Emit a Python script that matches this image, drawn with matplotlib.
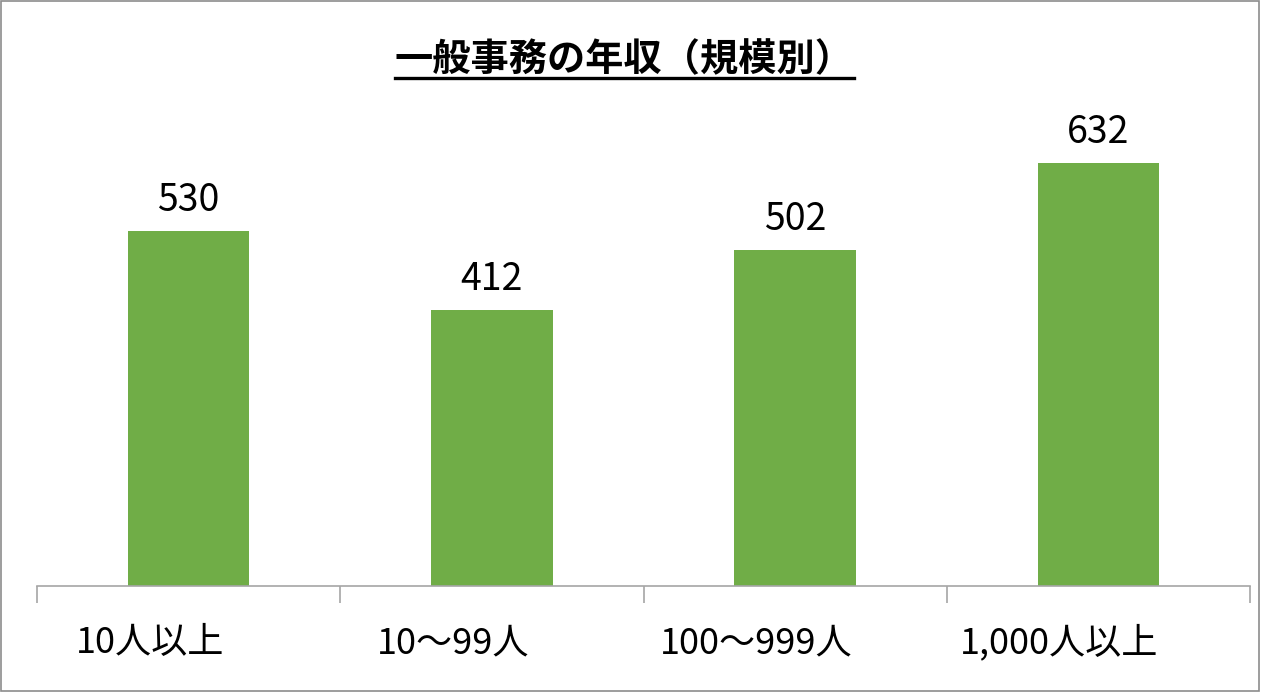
import matplotlib
matplotlib.use("Agg")
import matplotlib.pyplot as plt
import matplotlib.transforms as mtransforms
from matplotlib.lines import Line2D
from matplotlib.patches import Rectangle

plt.rcParams["font.family"] = ["Noto Sans CJK JP", "DejaVu Sans"]

title = "一般事務の年収（規模別）"
categories = ["10人以上", "10〜99人", "100〜999人", "1,000人以上"]
salaries = [530, 412, 502, 632]

W, H, DPI = 1262, 693, 100
fig = plt.figure(figsize=(W / DPI, H / DPI), dpi=DPI)

# axes placed in pixel terms: baseline at y=586, x from 37 to 1250
left, right = 37 / W, 1250 / W
bottom = 1 - 586 / H
top = 1 - (586 - 700 * 0.669) / H
ax = fig.add_axes([left, bottom, right - left, top - bottom])

x = list(range(len(categories)))
bars = ax.bar(x, salaries, width=0.4, color="#70AD47")

ax.set_xlim(-0.5, len(categories) - 0.5)
ax.set_ylim(0, 700)
ax.set_yticks([])
for side in ("left", "right", "top"):
    ax.spines[side].set_visible(False)
ax.spines["bottom"].set_color("#A6A6A6")
ax.spines["bottom"].set_linewidth(1.2)

ax.set_xticks([i - 0.5 for i in range(len(categories) + 1)])
ax.set_xticklabels([])
ax.tick_params(axis="x", length=12, width=1.2, color="#A6A6A6", direction="out")

# value labels above each bar
for rect, val in zip(bars, salaries):
    ax.annotate(str(val), (rect.get_x() + rect.get_width() / 2, val),
                xytext=(0, 14.5), textcoords="offset points",
                ha="center", va="baseline", fontsize=27, color="black")

# category labels (sit slightly left of bar centres, as in the original)
shift = mtransforms.ScaledTranslation(-39 / DPI, -67 / DPI, fig.dpi_scale_trans)
for i, lab in enumerate(categories):
    ax.text(i, 0, lab, transform=ax.get_xaxis_transform() + shift,
            ha="center", va="baseline", fontsize=26, color="black")

# title with underline
t = fig.text(624 / W, 1 - 71 / H, title, ha="center", va="baseline",
             fontsize=27.5, fontweight="bold", color="black")
fig.canvas.draw()
bb = t.get_window_extent(renderer=fig.canvas.get_renderer())
uy = 1 - 77.5 / H
fig.add_artist(Line2D([bb.x0 / W, bb.x1 / W], [uy, uy], color="black",
                      linewidth=2.4, transform=fig.transFigure))

# outer border
fig.add_artist(Rectangle((0.5 / W, 2.5 / H), (W - 4) / W, (H - 3.5) / H,
                         transform=fig.transFigure, fill=False,
                         edgecolor="#8C8C8C", linewidth=1.2))

fig.savefig("out.png", dpi=DPI)
